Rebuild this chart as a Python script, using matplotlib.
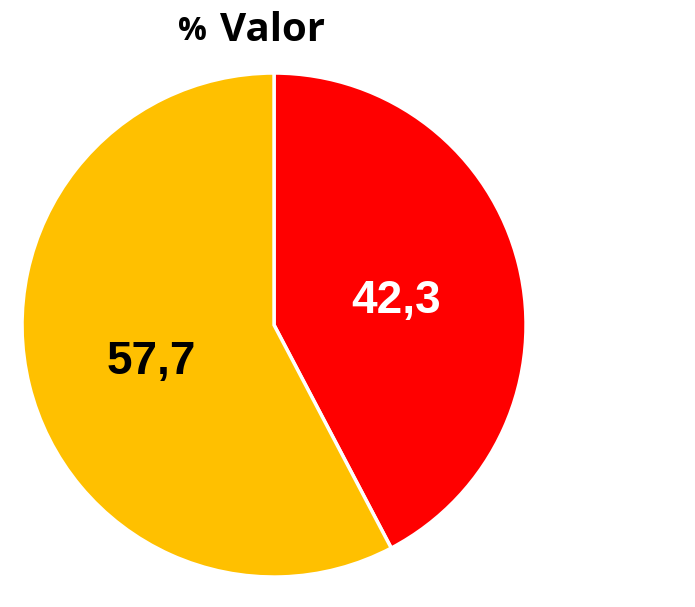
import matplotlib.pyplot as plt
import numpy as np

# data
categories = ['A', 'B']
values = [42.3, 57.7]
colors = ['#FF0000', '#FFC000']
label_colors = ['white', 'black']

fig = plt.figure(figsize=(6.95, 6.07), dpi=100)
ax = fig.add_axes([0.0317, 0.0494, 0.7252, 0.8303])

wedges, _ = ax.pie(values, colors=colors, startangle=90, counterclock=False,
                   radius=1, wedgeprops=dict(edgecolor='white', linewidth=2.5))

# value labels in the middle of each slice
for w, v, c in zip(wedges, values, label_colors):
    ang = np.deg2rad((w.theta1 + w.theta2) / 2)
    ax.text(0.5 * np.cos(ang), 0.5 * np.sin(ang) - 0.025, f'{v:.1f}'.replace('.', ','),
            ha='center', va='center', color=c, fontsize=33, fontweight='bold',
            family='Liberation Sans')

ax.set_xlim(-1, 1)
ax.set_ylim(-1, 1)
ax.set_aspect('equal')
ax.axis('off')

# title
fig.text(0.277, 0.948, '%', ha='center', va='center', fontsize=23,
         fontweight='bold', family='Open Sans')
fig.text(0.392, 0.950, 'Valor', ha='center', va='center', fontsize=29,
         fontweight='bold', family='Open Sans')

fig.savefig('out.png', dpi=100)
